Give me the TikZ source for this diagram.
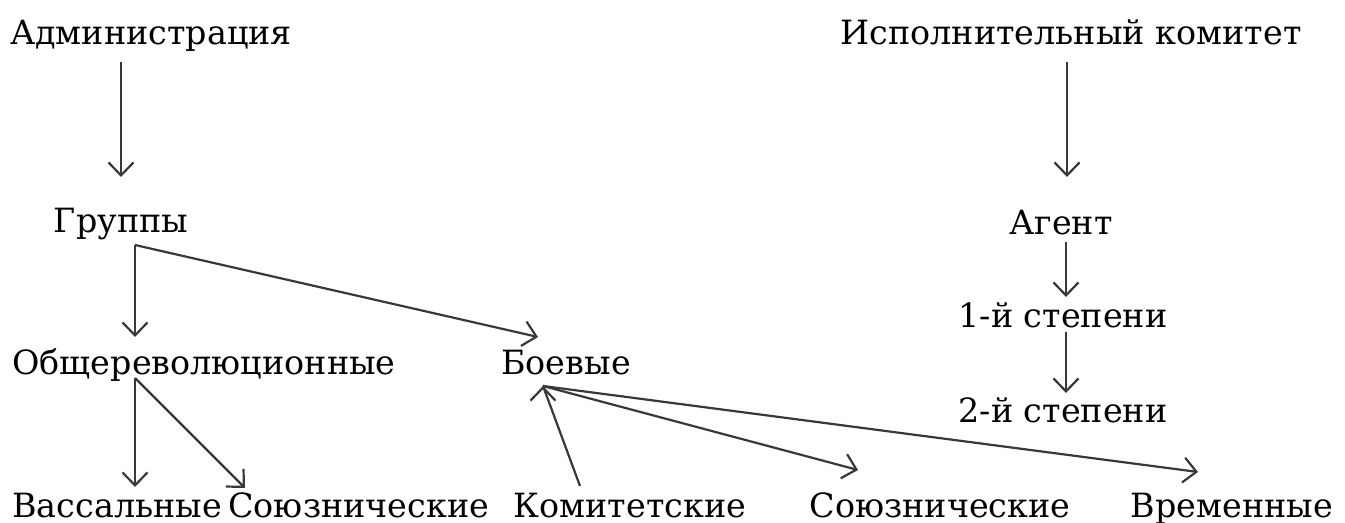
\documentclass[tikz,border=0pt]{standalone}
\usepackage{fontspec}
\setmainfont{DejaVu Serif}
\usetikzlibrary{arrows.meta}

\begin{document}
\begin{tikzpicture}[
    x=0.02cm, y=-0.02cm,
    >={Straight Barb[length=0.26cm, width=0.5cm]},
    orgname/.style={anchor=base, inner sep=0pt, font=\fontsize{19}{22}\selectfont},
    link/.style={draw=black!78, line width=1.25pt, ->},
]
\useasboundingbox (0,0) rectangle (1345,523);

\node[orgname] (adm) at (151, 45) {Администрация};
\node[orgname] (isp) at (1071, 45) {Исполнительный комитет};
\node[orgname] (grp) at (121, 233) {Группы};
\node[orgname] (agt) at (1061, 235) {Агент};
\node[orgname] (st1) at (1063, 328) {1-й степени};
\node[orgname] (obs) at (204, 375) {Общереволюционные};
\node[orgname] (boe) at (566, 375) {Боевые};
\node[orgname] (st2) at (1063, 422) {2-й степени};
\node[orgname, anchor=base west] (vas) at (12, 517) {Вассальные};
\node[orgname, anchor=base west] (soy1) at (228, 517) {Союзнические};
\node[orgname] (kom) at (630, 517) {Комитетские};
\node[orgname] (soy2) at (940, 517) {Союзнические};
\node[orgname] (vre) at (1232, 517) {Временные};

\coordinate (adm-out) at (121, 62);
\coordinate (grp-in) at (121, 177);
\coordinate (isp-out) at (1067, 62);
\coordinate (agt-in) at (1067, 177);
\coordinate (grp-out) at (135, 245);
\coordinate (obs-in) at (135, 337);
\coordinate (boe-in) at (538, 337);
\coordinate (agt-out) at (1066, 242);
\coordinate (st1-in) at (1066, 297);
\coordinate (st1-out) at (1066, 332);
\coordinate (st2-in) at (1066, 393);
\coordinate (obs-out) at (135, 378);
\coordinate (vas-in) at (135, 487);
\coordinate (soy1-in) at (245, 488);
\coordinate (boe-out) at (543, 386);
\coordinate (kom-in) at (580, 486);
\coordinate (soy2-in) at (858, 470);
\coordinate (vre-in) at (1198, 472);

\path[link]
    (adm-out) edge (grp-in)
    (isp-out) edge (agt-in)
    (grp-out) edge (obs-in)
    (grp-out) edge (boe-in)
    (agt-out) edge (st1-in)
    (st1-out) edge (st2-in)
    (obs-out) edge (vas-in)
    (obs-out) edge (soy1-in)
    (boe-out) edge[-] (kom-in)
    (boe-out) edge (soy2-in)
    (boe-out) edge (vre-in)
;
\end{tikzpicture}
\end{document}
